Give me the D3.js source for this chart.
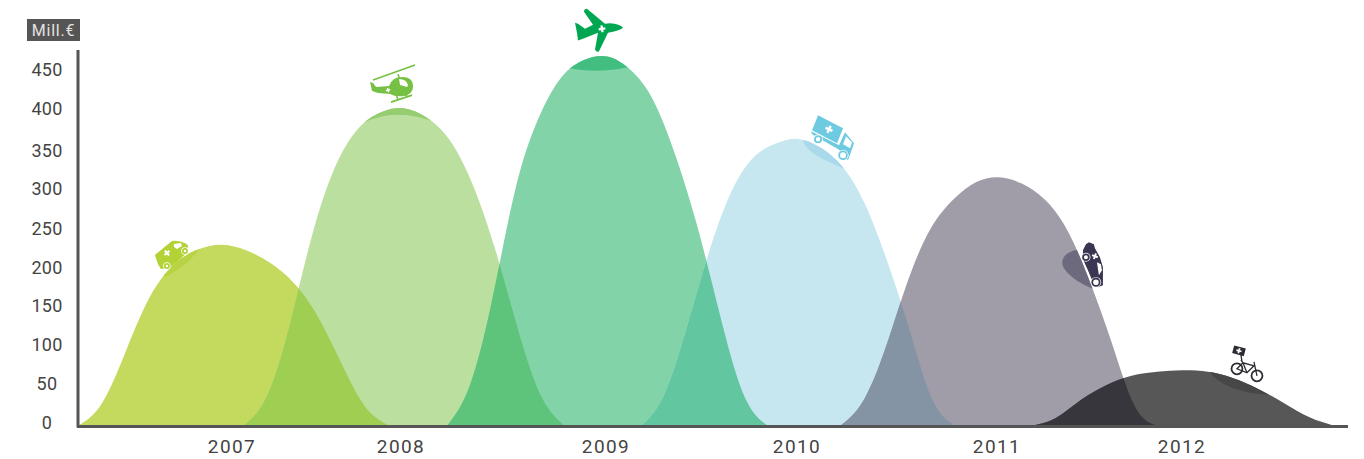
<!DOCTYPE html>
<html><head><meta charset="utf-8">
<script src="https://cdn.jsdelivr.net/npm/d3@7/dist/d3.min.js"></script>
<style>html,body{margin:0;background:#fff}svg{display:block}text{font-family:Roboto,sans-serif}</style>
</head><body><svg id="c" width="1364" height="459"></svg>
<script>
const years = [2007,2008,2009,2010,2011,2012];
const yTicks = [0,50,100,150,200,250,300,350,400,450];
const unitLabel = "Mill.€";

// each hill: first and last time on the axis, and values read at even steps between them
const spans = [[2006.25,2007.878],[2007.111,2008.79],[2008.175,2009.849],[2009.187,2010.825],[2010.225,2011.884],[2011.216,2012.807]];
const v2007 = [0,29,96,165,206,225,231,224,208,182,139,78,23,0];
const v2008 = [0,36,126,243,330,379,400,405,393,364,307,222,119,36,0];
const v2009 = [0,52,165,304,393,445,467,471,454,415,342,246,131,36,0];
const v2010 = [0,38,122,219,297,342,360,366,355,330,282,208,120,33,0];
const v2011 = [0,31,99,186,252,289,311,317,309,289,250,184,103,24,0];
const v2012 = [0,10,33,52,64,69,71,69,61,47,29,11,0];

const seriesV = [v2007,v2008,v2009,v2010,v2011,v2012];
const fills = ["#c3da5e","#bbdf9f","#83d3a8","#c7e7f0","#a09da8","#575757"];
const overlapFills = ["#9ecf52","#5ec47b","#62c6a0","#8594a5","#37363c"];

const svg = d3.select("#c");
const x = d3.scaleLinear().domain([2006.25,2012.875]).range([78,1348]);
const y = d3.scaleLinear().domain([0,450]).range([426,73]);
const area = d3.area().x(d=>x(d[0])).y0(y(0)).y1(d=>y(d[1])).curve(d3.curveNatural);
const pts = seriesV.map((vals,i)=>{
  const grid = d3.scaleLinear().domain([0,vals.length-1]).range(spans[i]);
  return vals.map((v,j)=>[grid(j),v]);
});

const defs = svg.append("defs");
pts.forEach((p,i)=>defs.append("clipPath").attr("id","hill"+i).append("path").attr("d",area(p)));
defs.append("clipPath").attr("id","plot").append("rect").attr("x",78).attr("y",0).attr("width",1280).attr("height",y(0));

const plot = svg.append("g").attr("clip-path","url(#plot)");
plot.append("g").selectAll("path").data(pts).join("path").attr("d",area).attr("fill",(d,i)=>fills[i]);
plot.append("g").selectAll("path").data(pts.slice(0,5)).join("path").attr("d",area)
  .attr("clip-path",(d,i)=>`url(#hill${i+1})`).attr("fill",(d,i)=>overlapFills[i]);

// shaded caps under each vehicle
const caps = [
 {h:0,a:[2006.766,205],d:"M22,-15 C12,-3 0,6 -12,12 L-30,-10 L10,-40Z",f:"#b8d444"},
 {h:1,a:[2007.93,405],d:"M-40,16 Q-3,-3 40,16 L40,-10 L-40,-10Z",f:"#96cd70"},
 {h:2,a:[2008.957,472],d:"M-45,8 Q-2,22 45,8 L45,-5 L-45,-5Z",f:"#42bf80"},
 {h:3,a:[2010.136,352],d:"M-20,-12 C-20,0 -5,8 24,20 L40,0 L-20,-20Z",f:"#a9d9ea"},
 {h:4,a:[2011.503,161],d:"M-8,-50 C-22,-47 -26,-38 -20,-30 C-14,-22 -3,-15 8,-11 L20,-50Z",f:"#6d6a7e"},
 {h:5,a:[2012.207,65],d:"M-12,-5 C0,12 25,20 60,20 L60,-20 L-12,-20Z",f:"#474747"}
];
const capG = plot.append("g");
caps.forEach(c=>capG.append("g").attr("clip-path",`url(#hill${c.h})`)
  .append("path").attr("transform",`translate(${x(c.a[0])},${y(c.a[1])})`).attr("d",c.d).attr("fill",c.f));

// axes
const axisColor = "#555";
const tickNudge = {0:0,50:0,100:1,150:1,200:2,250:2.5,300:1,350:2.5,400:0,450:0};
const yAxis = d3.axisLeft(y).tickValues(yTicks).tickSize(0);
const gy = svg.append("g").attr("transform","translate(78,0)").call(yAxis);
gy.select(".domain").remove();
gy.selectAll("text").attr("font-size",18).attr("fill","#444").attr("text-anchor","middle")
  .attr("x",-31).attr("dy",".32em").attr("letter-spacing",0.3)
  .attr("transform",d=>`translate(0,${tickNudge[d]-3.4})`);
svg.append("line").attr("x1",78).attr("x2",78).attr("y1",50).attr("y2",427.5).attr("stroke",axisColor).attr("stroke-width",3);
svg.append("line").attr("x1",77).attr("x2",1348).attr("y1",426.5).attr("y2",426.5).attr("stroke",axisColor).attr("stroke-width",3);

const labelPos = d3.scaleOrdinal().domain(years).range([232,401,606,797,997,1182]);
svg.append("g").selectAll("text").data(years).join("text")
  .attr("x",d=>labelPos(d)).attr("y",453).attr("text-anchor","middle")
  .attr("font-size",19).attr("letter-spacing",1.4).attr("fill","#444").text(d=>d);

svg.append("rect").attr("x",27).attr("y",19).attr("width",53).attr("height",22).attr("fill","#555");
svg.append("text").attr("x",53.5).attr("y",36).attr("text-anchor","middle").attr("font-size",16).attr("letter-spacing",0.8).attr("fill","#e2e2e2").text(unitLabel);

// vehicles
function plus(g,cx,cy,s,rot,col){
  g.append("path").attr("transform",`translate(${cx},${cy}) rotate(${rot})`)
   .attr("d",`M${-s},${-s/3}H${-s/3}V${-s}H${s/3}V${-s/3}H${s}V${s/3}H${s/3}V${s}H${-s/3}V${s/3}H${-s}Z`).attr("fill",col||"#fff");
}
function wheel(g,cx,cy,r,f){
  g.append("circle").attr("cx",cx).attr("cy",cy).attr("r",r+0.7).attr("fill","#fff");
  g.append("circle").attr("cx",cx).attr("cy",cy).attr("r",r-0.9).attr("fill","#fff").attr("stroke",f).attr("stroke-width",1.8);
}
const place=(a)=>svg.append("g").attr("transform",`translate(${x(a[0])},${y(a[1])})`);
const carAnchor=[2006.74,218], heliAnchor=[2007.93,432], planeAnchor=[2008.973,505], truckAnchor=[2010.173,368], ambAnchor=[2011.534,205], bikeAnchor=[2012.348,78];

// car
{const c="#b2d235",g=place(carAnchor);
 g.append("path").attr("fill",c).attr("d","M-17,0 L0,-14 Q8,-15 16,-10 L15,-2 L-2,13 L-11,14 L-14,9Z");
 g.append("path").attr("fill","#fff").attr("d","M2,-11 L9,-12 L10,-9 L5,-6 L2,-8Z");
 plus(g,-5,-2,3.2,-40);wheel(g,13,-4,3,c);wheel(g,-5,11,3,c);}
// helicopter
{const c="#76c043",g=place(heliAnchor);
 g.append("path").attr("stroke",c).attr("stroke-width",1.6).attr("d","M-27,-7 L15,-22 M-2,-13 L0,-6 M-9,15 L12,8 M-4,7 L-2,13 M5,6 L7,10");
 g.append("path").attr("fill",c).attr("d","M-30,-5 L-27,-4 L-24,0 L-11,-1 Q-8,-10 2,-10 Q13,-10 13,-1 Q13,7 4,9 Q-5,10 -10,7 L-22,6 L-28,4Z");
 g.append("path").attr("fill","#fff").attr("d","M-1,-8 Q6,-8 8,-2 L7,0 L0,-2Z");
 plus(g,-12,3,2.2,-15);}
// plane
{const c="#00a651",g=place(planeAnchor);
 g.append("path").attr("fill",c).attr("d","M23,-2 Q20,-6 10,-6.5 L5,-6 L-13,-21 Q-16,-21 -16,-18 L-7,-5 L-15,-1 L-22,-6 L-25,-7 L-23,3 L-22,10.7 L-17,9 L-2,3 L-5,20 Q-3,23 -1,21.5 L8,3 L13,2 Q21,0 23,-2Z");
 plus(g,2,-1,3.4,-10);}
// truck
{const c="#6dcae0",g=place(truckAnchor);
 g.append("path").attr("fill",c).attr("d","M-12,-22 L13,-9 L7,6 L-18,-7Z");
 g.append("path").attr("fill",c).attr("d","M15,-5 L24,6 L18,23 L8,16 L10,13 L-18,-3 L-19,-6 L9,8Z");
 g.append("path").attr("fill","#fff").attr("d","M16,-1 L22,5 L20,11 L13,7Z");
 plus(g,-1,-8,3.8,25);wheel(g,-12,2,4,c);wheel(g,13,18,4.8,c);}
// ambulance
{const c="#3a3551",g=place(ambAnchor);
 g.append("path").attr("fill",c).attr("d","M-8,-15 L-5,-21 L-2,-23 L3,-21 L4,-17 L9,-8 L12,2 L12,20 L7,22 L2,17 L-3,5 L-8,-6Z");
 g.append("path").attr("fill","#fff").attr("d","M6,-3 L10,-1 L11,5 L8,10Z");
 plus(g,4,-9,3,20);wheel(g,-5,-8,3.8,c);wheel(g,5,17,4.6,c);}
// bicycle
{const c="#2b2b33",g=place(bikeAnchor);
 g.selectAll("circle.w").data([[-10,4],[10,11]]).join("circle").attr("cx",d=>d[0]).attr("cy",d=>d[1]).attr("r",5.5).attr("fill","none").attr("stroke",c).attr("stroke-width",1.8);
 g.append("path").attr("fill","none").attr("stroke",c).attr("stroke-width",1.3).attr("d","M-10,4 L-4,-2 L7,1 L0,8 Z M10,11 L7,-3 M-4,-2 L0,8 M-6,-5 L-4,-2 M-6,-10 L-5,-3");
 g.append("rect").attr("x",-6).attr("y",-4).attr("width",12).attr("height",8).attr("fill",c).attr("transform","translate(-8,-14) rotate(15)");
 plus(g,-8,-14,2.6,15);}
</script></body></html>
